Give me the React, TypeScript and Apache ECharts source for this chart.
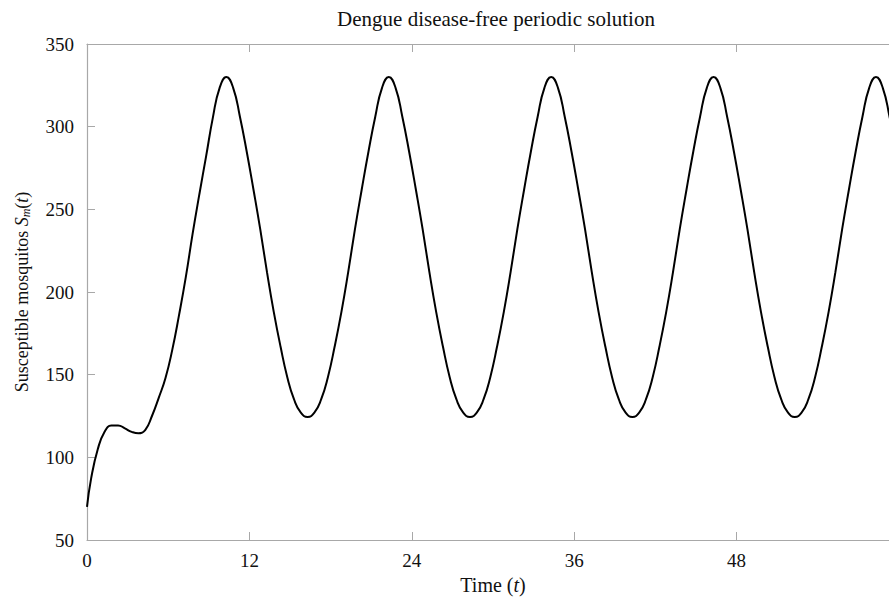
import React, { useEffect, useRef } from "react";
import * as echarts from "echarts";

const titleText = "Dengue disease-free periodic solution";
const xTicks = [0, 12, 24, 36, 48, 60];
const yTicks = [50, 100, 150, 200, 250, 300, 350];

// time points (t)
const timeValues = [
  0, 0.3, 0.8, 1.3, 1.8, 2.3, 2.8, 3.3, 3.8, 4.3, 4.8, 5.3, 5.8, 6.3, 6.8, 7.3, 7.8, 8.3, 8.8, 9.3, 9.8,
  10.3, 10.8, 11.3, 11.8, 12.3, 12.8, 13.3, 13.8, 14.3, 14.8, 15.3, 15.8, 16.3, 16.8, 17.3, 17.8, 18.3, 18.8, 19.3, 19.8, 20.3, 20.8, 21.3, 21.8,
  22.3, 22.8, 23.3, 23.8, 24.3, 24.8, 25.3, 25.8, 26.3, 26.8, 27.3, 27.8, 28.3, 28.8, 29.3, 29.8, 30.3, 30.8, 31.3, 31.8, 32.3, 32.8, 33.3, 33.8,
  34.3, 34.8, 35.3, 35.8, 36.3, 36.8, 37.3, 37.8, 38.3, 38.8, 39.3, 39.8, 40.3, 40.8, 41.3, 41.8, 42.3, 42.8, 43.3, 43.8, 44.3, 44.8, 45.3, 45.8,
  46.3, 46.8, 47.3, 47.8, 48.3, 48.8, 49.3, 49.8, 50.3, 50.8, 51.3, 51.8, 52.3, 52.8, 53.3, 53.8, 54.3, 54.8, 55.3, 55.8, 56.3, 56.8, 57.3, 57.8,
  58.3, 58.8, 59.3, 59.8, 60,
];

// susceptible mosquitoes S_m(t)
const mosquitoValues = [
  70, 87, 105, 115.5, 119.2, 119.3, 117.5, 115.4, 114.5, 116.5, 125, 136, 148, 165, 186, 209, 235, 259, 282, 305.5, 323.5,
  330, 323.5, 306, 285, 262, 238, 212, 188, 167, 148.5, 135, 127, 124.4, 127, 135, 148.5, 167, 188, 212, 238, 262, 285, 306, 323.5,
  330, 323.5, 306, 285, 262, 238, 212, 188, 167, 148.5, 135, 127, 124.4, 127, 135, 148.5, 167, 188, 212, 238, 262, 285, 306, 323.5,
  330, 323.5, 306, 285, 262, 238, 212, 188, 167, 148.5, 135, 127, 124.4, 127, 135, 148.5, 167, 188, 212, 238, 262, 285, 306, 323.5,
  330, 323.5, 306, 285, 262, 238, 212, 188, 167, 148.5, 135, 127, 124.4, 127, 135, 148.5, 167, 188, 212, 238, 262, 285, 306, 323.5,
  330, 323.5, 306, 285, 276,
];

const FONT = "'Liberation Serif', 'Times New Roman', serif";
const AXIS_GRAY = "#a8a8a8";

export default function App() {
  const ref = useRef<HTMLDivElement>(null);
  useEffect(() => {
    if (!ref.current) return;
    const chart = echarts.init(ref.current, null, { renderer: "svg" });
    const data = timeValues.map((t, i) => [t, mosquitoValues[i]]);
    chart.setOption({
      animation: false,
      backgroundColor: "#ffffff",
      title: {
        text: titleText,
        left: 491,
        textAlign: "center",
        top: 3,
        textStyle: { fontFamily: FONT, fontSize: 21, fontWeight: "normal", color: "#111" },
      },
      grid: { left: 87, top: 44, right: -10, bottom: 57, containLabel: false, outerBoundsMode: "none" },
      xAxis: [
        {
          type: "value",
          position: "bottom",
          min: xTicks[0],
          max: xTicks[xTicks.length - 1],
          interval: 12,
          name: "Time ({i|t})",
          nameLocation: "middle",
          nameGap: 32,
          nameTextStyle: {
            fontFamily: FONT,
            fontSize: 20,
            color: "#111",
            rich: { i: { fontFamily: FONT, fontSize: 20, fontStyle: "italic", color: "#111" } },
          },
          axisLine: { show: true, lineStyle: { color: AXIS_GRAY, width: 1.2 } },
          axisTick: { show: true, inside: true, length: 8, lineStyle: { color: AXIS_GRAY } },
          axisLabel: { fontFamily: FONT, fontSize: 19, color: "#111", margin: 11, showMaxLabel: false },
          splitLine: { show: false },
        },
        {
          type: "value",
          position: "top",
          min: xTicks[0],
          max: xTicks[xTicks.length - 1],
          interval: 12,
          axisLine: { show: true, onZero: false, lineStyle: { color: AXIS_GRAY, width: 1.2 } },
          axisTick: { show: true, inside: true, length: 8, lineStyle: { color: AXIS_GRAY } },
          axisLabel: { show: false },
          splitLine: { show: false },
        },
      ],
      yAxis: {
        type: "value",
        min: yTicks[0],
        max: yTicks[yTicks.length - 1],
        interval: 50,
        name: "Susceptible mosquitos {i|S}{sub|m}{n|(}{i|t}{n|)}",
        nameLocation: "middle",
        nameRotate: 90,
        nameGap: 55,
        nameTextStyle: {
          fontFamily: FONT,
          fontSize: 18,
          color: "#111",
          rich: {
            i: { fontFamily: FONT, fontSize: 18, fontStyle: "italic", color: "#111" },
            n: { fontFamily: FONT, fontSize: 18, color: "#111" },
            sub: { fontFamily: FONT, fontSize: 12, fontStyle: "italic", color: "#111", verticalAlign: "bottom", padding: [8, 0, 0, 0] },
          },
        },
        axisLine: { show: true, lineStyle: { color: AXIS_GRAY, width: 1.2 } },
        axisTick: { show: true, inside: true, length: 8, lineStyle: { color: AXIS_GRAY } },
        axisLabel: { fontFamily: FONT, fontSize: 19, color: "#111", margin: 13 },
        splitLine: { show: false },
      },
      series: [
        {
          type: "line",
          data,
          smooth: 0.5,
          showSymbol: false,
          lineStyle: { color: "#000", width: 2 },
          clip: true,
        },
      ],
    });
    return () => chart.dispose();
  }, []);
  return <div ref={ref} style={{ position: "fixed", left: 0, top: 0, width: 889, height: 597 }} />;
}
